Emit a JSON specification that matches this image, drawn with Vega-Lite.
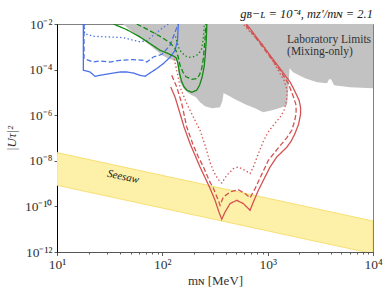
{
 "$schema": "https://vega.github.io/schema/vega-lite/v6.json",
 "width": 316, "height": 228,
 "autosize": {"type": "none"},
 "padding": {"left": 57, "top": 24, "right": 17, "bottom": 41},
 "background": "white",
 "config": {"view": {"stroke": "#808080", "strokeWidth": 1}, "font": "Liberation Serif"},
 "datasets": {
  "band": [{"m": 10, "u": 2.29e-8, "lo": 8.41e-10}, {"m": 10000, "u": 2.29e-11, "lo": 8.41e-13}],
  "gray": [
   {"m":42.35,"u":1e-2},{"m":55.05,"u":3.53e-3},{"m":76.41,"u":1.164e-3},{"m":99.35,"u":4.24e-4},{"m":118.3,"u":2.83e-4},{"m":137.9,"u":2.31e-4},{"m":141.0,"u":9.32e-5},{"m":147.3,"u":2.77e-5},{"m":160.7,"u":1.37e-5},{"m":183.3,"u":8.26e-6},{"m":208.9,"u":6.10e-6},{"m":228.0,"u":3.68e-6},{"m":254.5,"u":2.46e-6},{"m":296.5,"u":2.01e-6},{"m":353.2,"u":2.22e-6},{"m":373.0,"u":4.50e-6},{"m":381.2,"u":9.14e-6},{"m":402.7,"u":8.26e-6},{"m":490.1,"u":4.98e-6},{"m":610.1,"u":3.01e-6},{"m":759.3,"u":2.01e-6},{"m":904.2,"u":1.34e-6},{"m":1101,"u":1.64e-6},{"m":1370,"u":2.22e-6},{"m":1528,"u":2.72e-6},{"m":1579,"u":2.05e-5},{"m":1614,"u":1.14e-4},{"m":1743,"u":7.62e-5},{"m":2266,"u":4.15e-5},{"m":2945,"u":2.77e-5},{"m":3665,"u":2.51e-5},{"m":3828,"u":3.76e-5},{"m":4000,"u":3.76e-5},{"m":4272,"u":2.05e-5},{"m":6061,"u":1.67e-5},{"m":10000,"u":1.51e-5}
  ],
  "curves": [
   {"c":"b","d":"s","i":0,"m":17.78,"u":1e-2},{"c":"b","d":"s","i":1,"m":17.78,"u":9.32e-5},{"c":"b","d":"s","i":2,"m":20.58,"u":7.85e-5},{"c":"b","d":"s","i":3,"m":22.96,"u":5.08e-5},{"c":"b","d":"s","i":4,"m":25.61,"u":5.62e-5},{"c":"b","d":"s","i":5,"m":31.87,"u":6.68e-5},{"c":"b","d":"s","i":6,"m":39.66,"u":7.85e-5},{"c":"b","d":"s","i":7,"m":45.91,"u":7.85e-5},{"c":"b","d":"s","i":8,"m":53.04,"u":7.09e-5},{"c":"b","d":"s","i":9,"m":61.40,"u":5.62e-5},{"c":"b","d":"s","i":10,"m":68.50,"u":5.08e-5},{"c":"b","d":"s","i":11,"m":76.41,"u":7.09e-5},{"c":"b","d":"s","i":12,"m":88.48,"u":1.106e-4},{"c":"b","d":"s","i":13,"m":102.2,"u":1.833e-4},{"c":"b","d":"s","i":14,"m":118.3,"u":3.46e-4},{"c":"b","d":"s","i":15,"m":132.0,"u":7.02e-4},{"c":"b","d":"s","i":16,"m":139.4,"u":1.93e-3},{"c":"b","d":"s","i":17,"m":141.9,"u":1e-2},
   {"c":"b","d":"a","i":0,"m":18.05,"u":1e-2},{"c":"b","d":"a","i":1,"m":18.05,"u":3.04e-4},{"c":"b","d":"a","i":2,"m":22.12,"u":2.15e-4},{"c":"b","d":"a","i":3,"m":25.61,"u":2.38e-4},{"c":"b","d":"a","i":4,"m":31.87,"u":2.15e-4},{"c":"b","d":"a","i":5,"m":39.66,"u":2.56e-4},{"c":"b","d":"a","i":6,"m":53.04,"u":2.75e-4},{"c":"b","d":"a","i":7,"m":66.01,"u":2.56e-4},{"c":"b","d":"a","i":8,"m":71.11,"u":2.15e-4},{"c":"b","d":"a","i":9,"m":82.11,"u":3.57e-4},{"c":"b","d":"a","i":10,"m":99.35,"u":4.69e-4},{"c":"b","d":"a","i":11,"m":118.3,"u":1.164e-3},{"c":"b","d":"a","i":12,"m":132.0,"u":4.33e-3},{"c":"b","d":"a","i":13,"m":141.0,"u":1e-2},
   {"c":"b","d":"o","i":0,"m":18.25,"u":1e-2},{"c":"b","d":"o","i":1,"m":18.25,"u":3.79e-3},{"c":"b","d":"o","i":2,"m":22.12,"u":2.89e-3},{"c":"b","d":"o","i":3,"m":31.87,"u":2.69e-3},{"c":"b","d":"o","i":4,"m":42.62,"u":2.53e-3},{"c":"b","d":"o","i":5,"m":53.04,"u":1.93e-3},{"c":"b","d":"o","i":6,"m":61.40,"u":1.66e-3},{"c":"b","d":"o","i":7,"m":71.11,"u":1.83e-3},{"c":"b","d":"o","i":8,"m":82.11,"u":3.19e-3},{"c":"b","d":"o","i":9,"m":98.69,"u":6.28e-3},{"c":"b","d":"o","i":10,"m":114.0,"u":1e-2},
   {"c":"g","d":"s","i":0,"m":34.25,"u":1e-2},{"c":"g","d":"s","i":1,"m":45.91,"u":5.68e-3},{"c":"g","d":"s","i":2,"m":61.40,"u":2.69e-3},{"c":"g","d":"s","i":3,"m":76.41,"u":1.382e-3},{"c":"g","d":"s","i":4,"m":95.10,"u":7.02e-4},{"c":"g","d":"s","i":5,"m":114.0,"u":5.03e-4},{"c":"g","d":"s","i":6,"m":132.0,"u":3.57e-4},{"c":"g","d":"s","i":7,"m":136.4,"u":3.13e-4},{"c":"g","d":"s","i":8,"m":141.0,"u":1.708e-4},{"c":"g","d":"s","i":9,"m":145.7,"u":6.88e-5},{"c":"g","d":"s","i":10,"m":152.2,"u":3.07e-5},{"c":"g","d":"s","i":11,"m":160.7,"u":1.76e-5},{"c":"g","d":"s","i":12,"m":171.6,"u":1.236e-5},{"c":"g","d":"s","i":13,"m":190.2,"u":1.01e-5},{"c":"g","d":"s","i":14,"m":211.3,"u":1.236e-5},{"c":"g","d":"s","i":15,"m":225.6,"u":2.05e-5},{"c":"g","d":"s","i":16,"m":238.2,"u":4.60e-5},{"c":"g","d":"s","i":17,"m":248.9,"u":1.261e-4},{"c":"g","d":"s","i":18,"m":255.6,"u":4.24e-4},{"c":"g","d":"s","i":19,"m":261.2,"u":1.928e-3},{"c":"g","d":"s","i":20,"m":264.6,"u":1e-2},
   {"c":"g","d":"a","i":0,"m":57.13,"u":1e-2},{"c":"g","d":"a","i":1,"m":76.41,"u":5.03e-3},{"c":"g","d":"a","i":2,"m":98.69,"u":2.61e-3},{"c":"g","d":"a","i":3,"m":118.3,"u":1.497e-3},{"c":"g","d":"a","i":4,"m":132.0,"u":8.59e-4},{"c":"g","d":"a","i":5,"m":141.0,"u":3.83e-4},{"c":"g","d":"a","i":6,"m":147.3,"u":1.544e-4},{"c":"g","d":"a","i":7,"m":157.2,"u":7.61e-5},{"c":"g","d":"a","i":8,"m":168.0,"u":4.83e-5},{"c":"g","d":"a","i":9,"m":190.2,"u":3.75e-5},{"c":"g","d":"a","i":10,"m":212.2,"u":4.03e-5},{"c":"g","d":"a","i":11,"m":225.6,"u":5.91e-5},{"c":"g","d":"a","i":12,"m":236.6,"u":1.106e-4},{"c":"g","d":"a","i":13,"m":245.2,"u":3.13e-4},{"c":"g","d":"a","i":14,"m":249.9,"u":8.34e-4},{"c":"g","d":"a","i":15,"m":255.6,"u":3.19e-3},{"c":"g","d":"a","i":16,"m":258.9,"u":1e-2},
   {"c":"g","d":"o","i":0,"m":133.5,"u":2.89e-3},{"c":"g","d":"o","i":1,"m":141.9,"u":9.80e-4},{"c":"g","d":"o","i":2,"m":150.5,"u":6.04e-4},{"c":"g","d":"o","i":3,"m":164.3,"u":4.03e-4},{"c":"g","d":"o","i":4,"m":179.3,"u":3.46e-4},{"c":"g","d":"o","i":5,"m":195.6,"u":3.64e-4},{"c":"g","d":"o","i":6,"m":212.2,"u":4.24e-4},{"c":"g","d":"o","i":7,"m":228.0,"u":6.04e-4},{"c":"g","d":"o","i":8,"m":236.6,"u":8.34e-4},{"c":"g","d":"o","i":9,"m":243.5,"u":1.93e-3},{"c":"g","d":"o","i":10,"m":247.3,"u":4.33e-3},{"c":"g","d":"o","i":11,"m":250.5,"u":1e-2},
   {"c":"r","d":"s","i":0,"m":120.2,"u":1.725e-5},{"c":"r","d":"s","i":1,"m":132.0,"u":6.28e-6},{"c":"r","d":"s","i":2,"m":147.3,"u":1.176e-6},{"c":"r","d":"s","i":3,"m":160.7,"u":3.04e-7},{"c":"r","d":"s","i":4,"m":183.3,"u":5.68e-8},{"c":"r","d":"s","i":5,"m":228.0,"u":5.35e-9},{"c":"r","d":"s","i":6,"m":283.8,"u":6.22e-10},{"c":"r","d":"s","i":7,"m":316.6,"u":1.85e-10},{"c":"r","d":"s","i":8,"m":345.5,"u":5.51e-11},{"c":"r","d":"s","i":9,"m":366.5,"u":2.72e-11},{"c":"r","d":"s","i":10,"m":393.9,"u":5.68e-11},{"c":"r","d":"s","i":11,"m":439.6,"u":1.327e-10},{"c":"r","d":"s","i":12,"m":508.8,"u":1.85e-10},{"c":"r","d":"s","i":13,"m":587.9,"u":1.327e-10},{"c":"r","d":"s","i":14,"m":680.7,"u":6.74e-11},{"c":"r","d":"s","i":15,"m":731.5,"u":1.56e-10},{"c":"r","d":"s","i":16,"m":815.9,"u":5.08e-10},{"c":"r","d":"s","i":17,"m":910.4,"u":1.396e-9},{"c":"r","d":"s","i":18,"m":1054,"u":5.35e-9},{"c":"r","d":"s","i":19,"m":1220,"u":1.468e-8},{"c":"r","d":"s","i":20,"m":1518,"u":3.91e-8},{"c":"r","d":"s","i":21,"m":1668,"u":7.17e-8},{"c":"r","d":"s","i":22,"m":1820,"u":1.607e-7},{"c":"r","d":"s","i":23,"m":1965,"u":3.99e-7},{"c":"r","d":"s","i":24,"m":2053,"u":1.095e-6},{"c":"r","d":"s","i":25,"m":2053,"u":2.22e-6},{"c":"r","d":"s","i":26,"m":1987,"u":4.50e-6},{"c":"r","d":"s","i":27,"m":1889,"u":7.46e-6},{"c":"r","d":"s","i":28,"m":1754,"u":1.513e-5},{"c":"r","d":"s","i":29,"m":1632,"u":2.86e-5},{"c":"r","d":"s","i":30,"m":1463,"u":5.62e-5},{"c":"r","d":"s","i":31,"m":1312,"u":1.106e-4},{"c":"r","d":"s","i":32,"m":1054,"u":4.24e-4},{"c":"r","d":"s","i":33,"m":846.7,"u":1.624e-3},{"c":"r","d":"s","i":34,"m":680.7,"u":6.28e-3},{"c":"r","d":"s","i":35,"m":623.6,"u":1e-2},
   {"c":"r","d":"a","i":0,"m":122.8,"u":5.62e-5},{"c":"r","d":"a","i":1,"m":137.0,"u":1.725e-5},{"c":"r","d":"a","i":2,"m":152.9,"u":3.23e-6},{"c":"r","d":"a","i":3,"m":170.5,"u":3.04e-7},{"c":"r","d":"a","i":4,"m":193.6,"u":5.85e-8},{"c":"r","d":"a","i":5,"m":218.3,"u":1.575e-8},{"c":"r","d":"a","i":6,"m":248.9,"u":4.69e-9},{"c":"r","d":"a","i":7,"m":277.7,"u":1.396e-9},{"c":"r","d":"a","i":8,"m":305.1,"u":6.22e-10},{"c":"r","d":"a","i":9,"m":340.2,"u":1.851e-10},{"c":"r","d":"a","i":10,"m":353.2,"u":1.117e-10},{"c":"r","d":"a","i":11,"m":379.6,"u":2.584e-10},{"c":"r","d":"a","i":12,"m":439.6,"u":4.28e-10},{"c":"r","d":"a","i":13,"m":526.8,"u":5.45e-10},{"c":"r","d":"a","i":14,"m":610.1,"u":3.64e-10},{"c":"r","d":"a","i":15,"m":680.7,"u":2.38e-10},{"c":"r","d":"a","i":16,"m":759.3,"u":6.04e-10},{"c":"r","d":"a","i":17,"m":879.0,"u":2.56e-9},{"c":"r","d":"a","i":18,"m":1015,"u":1.052e-8},{"c":"r","d":"a","i":19,"m":1283,"u":4.03e-8},{"c":"r","d":"a","i":20,"m":1518,"u":1.02e-7},{"c":"r","d":"a","i":21,"m":1694,"u":2.18e-7},{"c":"r","d":"a","i":22,"m":1801,"u":5.40e-7},{"c":"r","d":"a","i":23,"m":1861,"u":1.211e-6},{"c":"r","d":"a","i":24,"m":1861,"u":2.72e-6},{"c":"r","d":"a","i":25,"m":1781,"u":5.35e-6},{"c":"r","d":"a","i":26,"m":1572,"u":2.43e-5},{"c":"r","d":"a","i":27,"m":1312,"u":9.32e-5},{"c":"r","d":"a","i":28,"m":1054,"u":3.57e-4},{"c":"r","d":"a","i":29,"m":846.7,"u":1.382e-3},{"c":"r","d":"a","i":30,"m":680.7,"u":5.29e-3},{"c":"r","d":"a","i":31,"m":603.4,"u":1e-2},
   {"c":"r","d":"o","i":0,"m":127.2,"u":4.24e-4},{"c":"r","d":"o","i":1,"m":137.0,"u":9.32e-5},{"c":"r","d":"o","i":2,"m":147.3,"u":1.725e-5},{"c":"r","d":"o","i":3,"m":170.5,"u":3.23e-6},{"c":"r","d":"o","i":4,"m":196.9,"u":8.34e-7},{"c":"r","d":"o","i":5,"m":228.0,"u":2.18e-7},{"c":"r","d":"o","i":6,"m":254.5,"u":4.78e-8},{"c":"r","d":"o","i":7,"m":283.8,"u":8.59e-9},{"c":"r","d":"o","i":8,"m":309.7,"u":3.13e-9},{"c":"r","d":"o","i":9,"m":338.1,"u":1.544e-9},{"c":"r","d":"o","i":10,"m":366.5,"u":1.062e-9},{"c":"r","d":"o","i":11,"m":408.9,"u":2.31e-9},{"c":"r","d":"o","i":12,"m":472.3,"u":4.55e-9},{"c":"r","d":"o","i":13,"m":526.8,"u":5.35e-9},{"c":"r","d":"o","i":14,"m":610.1,"u":3.83e-9},{"c":"r","d":"o","i":15,"m":680.7,"u":2.75e-9},{"c":"r","d":"o","i":16,"m":731.5,"u":5.35e-9},{"c":"r","d":"o","i":17,"m":815.9,"u":2.07e-8},{"c":"r","d":"o","i":18,"m":910.4,"u":7.17e-8},{"c":"r","d":"o","i":19,"m":1009,"u":1.778e-7},{"c":"r","d":"o","i":20,"m":1150,"u":3.99e-7},{"c":"r","d":"o","i":21,"m":1312,"u":8.09e-7},{"c":"r","d":"o","i":22,"m":1431,"u":1.64e-6},{"c":"r","d":"o","i":23,"m":1512,"u":4.50e-6},{"c":"r","d":"o","i":24,"m":1528,"u":1.236e-5},{"c":"r","d":"o","i":25,"m":1431,"u":3.39e-5},{"c":"r","d":"o","i":26,"m":1255,"u":9.32e-5},{"c":"r","d":"o","i":27,"m":1133,"u":2.154e-4},{"c":"r","d":"o","i":28,"m":1009,"u":5.19e-4},{"c":"r","d":"o","i":29,"m":910.4,"u":1.164e-3},{"c":"r","d":"o","i":30,"m":776.1,"u":2.36e-3},{"c":"r","d":"o","i":31,"m":680.7,"u":4.46e-3},{"c":"r","d":"o","i":32,"m":584.1,"u":1e-2}
  ],
  "notes": [
   {"m": 1528, "u": 1.93e-3, "t": "Laboratory Limits"},
   {"m": 1528, "u": 5.74e-4, "t": "(Mixing-only)"}
  ],
  "seesawlabel": [{"m": 42.4, "u": 1.95e-9, "t": "Seesaw"}],
  "header": [{"m": 10000, "u": 1e-2, "t": "gʙ−ʟ = 10⁻⁴, mᴢ′/mɴ = 2.1"}]
 },
 "encoding": {
  "x": {"field": "m", "type": "quantitative",
   "scale": {"type": "log", "domain": [10, 10000], "nice": false},
   "axis": {"title": "mɴ [MeV]", "grid": false,
    "values": [10,20,30,40,50,60,70,80,90,100,200,300,400,500,600,700,800,900,1000,2000,3000,4000,5000,6000,7000,8000,9000,10000],
    "labelExpr": "datum.value == 10 ? '10¹' : datum.value == 100 ? '10²' : datum.value == 1000 ? '10³' : datum.value == 10000 ? '10⁴' : ''",
    "tickSize": {"condition": {"test": "datum.value == 10 || datum.value == 100 || datum.value == 1000 || datum.value == 10000", "value": 3.5}, "value": 2},
    "tickColor": "#333", "tickWidth": 0.8, "domainColor": "#555", "domainWidth": 1,
    "labelFlush": false, "labelOverlap": false, "labelFont": "Liberation Serif", "labelFontSize": 13.5, "labelColor": "#333", "labelPadding": 2,
    "titleFont": "Liberation Serif", "titleFontSize": 13, "titleFontWeight": "normal", "titleColor": "#333", "titlePadding": 3}},
  "y": {"field": "u", "type": "quantitative",
   "scale": {"type": "log", "domain": [1e-12, 1e-2], "nice": false},
   "axis": {"title": "|Uτ|²", "grid": false,
    "values": [1e-12, 1e-10, 1e-8, 1e-6, 1e-4, 1e-2],
    "labelExpr": "datum.value == 1e-12 ? '10⁻¹²' : datum.value == 1e-10 ? '10⁻¹⁰' : datum.value == 1e-8 ? '10⁻⁸' : datum.value == 1e-6 ? '10⁻⁶' : datum.value == 1e-4 ? '10⁻⁴' : '10⁻²'",
    "tickSize": 3, "tickColor": "#333", "tickWidth": 0.8, "domainColor": "#000", "domainWidth": 1,
    "labelFont": "Liberation Serif", "labelFontSize": 13.5, "labelColor": "#333", "labelPadding": 2, "labelOverlap": false,
    "titleFont": "Liberation Serif", "titleFontSize": 13, "titleFontWeight": "normal", "titleFontStyle": "italic", "titleColor": "#333", "titlePadding": 6}}
 },
 "layer": [
  {"data": {"name": "band"}, "mark": {"type": "area", "clip": true, "fill": "#fdf0a8", "stroke": "#f6d95e", "strokeWidth": 0.8},
   "encoding": {"y2": {"field": "lo"}}},
  {"data": {"name": "gray"}, "mark": {"type": "area", "clip": true, "color": "#c2c2c2"},
   "encoding": {"y2": {"datum": 0.01}}},
  {"data": {"name": "curves"}, "mark": {"type": "line", "clip": true, "strokeWidth": 1.3},
   "encoding": {
    "color": {"field": "c", "type": "nominal", "scale": {"domain": ["b", "g", "r"], "range": ["#4a72e6", "#128a12", "#d45252"]}, "legend": null},
    "strokeDash": {"field": "d", "type": "nominal", "scale": {"domain": ["s", "a", "o"], "range": [[1, 0], [5, 2.5], [1.4, 2.4]]}, "legend": null},
    "detail": {"field": "d"},
    "order": {"field": "i", "type": "quantitative"}}},
  {"data": {"name": "seesawlabel"}, "mark": {"type": "text", "font": "Liberation Serif", "fontSize": 11, "fontStyle": "italic", "angle": 12, "align": "center", "baseline": "middle", "color": "#222"},
   "encoding": {"text": {"field": "t"}}},
  {"data": {"name": "notes"}, "mark": {"type": "text", "font": "Liberation Serif", "fontSize": 11.5, "align": "left", "baseline": "middle", "color": "#333"},
   "encoding": {"text": {"field": "t"}}},
  {"data": {"name": "header"}, "mark": {"type": "text", "font": "Liberation Serif", "fontSize": 12.5, "fontStyle": "italic", "align": "right", "baseline": "alphabetic", "dy": -6, "color": "#222"},
   "encoding": {"text": {"field": "t"}}}
 ]
}
